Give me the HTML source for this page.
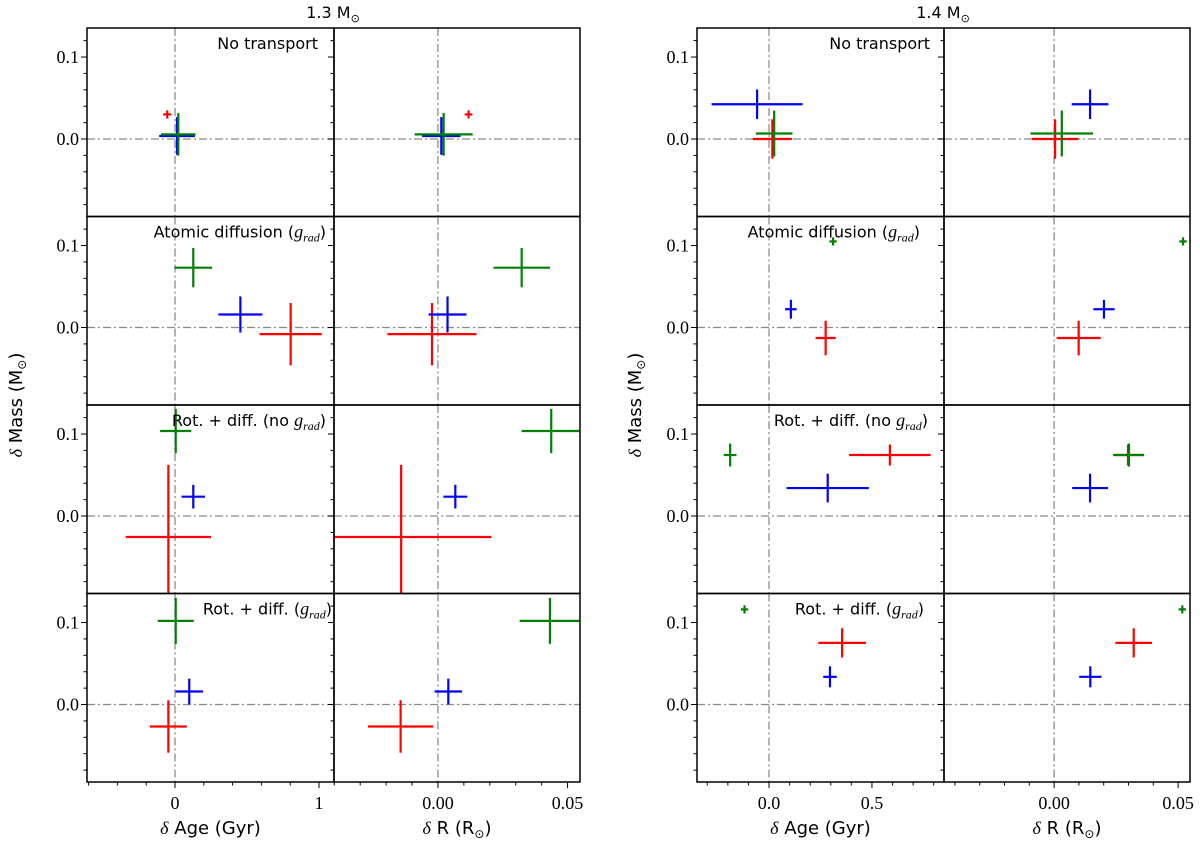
<!DOCTYPE html>
<html><head><meta charset="utf-8"><style>
html,body{margin:0;padding:0;background:#fff;}
svg{display:block;}
.tk{font-family:"Liberation Serif",serif;font-size:18px;fill:#000;}
.lb{font-family:"DejaVu Sans","Liberation Sans",sans-serif;font-size:16px;fill:#000;}
.at{font-family:"DejaVu Sans","Liberation Sans",sans-serif;font-size:18px;fill:#000;}
</style></head><body>
<svg id="fig" width="1200" height="850" viewBox="0 0 1200 850" xmlns="http://www.w3.org/2000/svg"></svg>
<script>
const rowLabels = ["No transport","Atomic diffusion","Rot. + diff. (no","Rot. + diff."];
const ageTicks13 = [0,1], ageTickLabels13 = ["0","1"];
const ageTicks14 = [0,0.5], ageTickLabels14 = ["0.0","0.5"];
const rTicks = [0,0.05], rTickLabels = ["0.00","0.05"];
const massTicks = [0,0.1], massTickLabels = ["0.0","0.1"];
// 1.3 Msun
const age13Red=[-0.054,0.803,-0.046,-0.046], ageErr13Red=[0.028,0.216,0.296,0.128];
const r13Red=[0.0118,-0.0023,-0.0142,-0.0144], rErr13Red=[0.0015,0.0172,0.0348,0.0126];
const m13Red=[0.030,-0.0081,-0.0256,-0.0268], mErr13Red=[0.005,0.038,0.088,0.032];
const age13Blue=[0.014,0.454,0.127,0.099], ageErr13Blue=[0.124,0.153,0.081,0.095];
const r13Blue=[0.0013,0.0037,0.0067,0.0040], rErr13Blue=[0.0074,0.0073,0.0046,0.0053];
const m13Blue=[0.0037,0.0159,0.0236,0.0159], mErr13Blue=[0.023,0.022,0.0144,0.0157];
const age13Green=[0.023,0.127,0.005,0.005], ageErr13Green=[0.12,0.13,0.108,0.125];
const r13Green=[0.0022,0.0323,0.0437,0.0432], rErr13Green=[0.0112,0.0109,0.0114,0.0117];
const m13Green=[0.0057,0.073,0.1037,0.102], mErr13Green=[0.026,0.024,0.027,0.028];
// 1.4 Msun
const age14Red=[0.016,0.275,0.587,0.355], ageErr14Red=[0.095,0.049,0.198,0.116];
const r14Red=[0.0004,0.0099,0.0298,0.0321], rErr14Red=[0.0094,0.0089,0.006,0.0074];
const m14Red=[0.0,-0.0128,0.0744,0.0752], mErr14Red=[0.024,0.021,0.0128,0.0178];
const age14Blue=[-0.058,0.106,0.285,0.296], ageErr14Blue=[0.221,0.028,0.2,0.033];
const r14Blue=[0.0145,0.0201,0.0145,0.0146], rErr14Blue=[0.0074,0.0043,0.0072,0.0045];
const m14Blue=[0.0424,0.0223,0.0341,0.0338], mErr14Blue=[0.018,0.0115,0.0175,0.0128];
const age14Green=[0.025,0.311,-0.189,-0.119], ageErr14Green=[0.089,0.018,0.031,0.018];
const r14Green=[0.0031,0.052,0.0302,0.0517], rErr14Green=[0.0126,0.0015,0.0061,0.0015];
const m14Green=[0.0067,0.105,0.0744,0.116], mErr14Green=[0.028,0.005,0.014,0.005];

const NS="http://www.w3.org/2000/svg";
const svg=document.getElementById('fig');
function mk(tag,attrs,parent){const e=document.createElementNS(NS,tag);for(const k in attrs)e.setAttribute(k,attrs[k]);(parent||svg).appendChild(e);return e;}
const Y_MAX=0.1354, Y_MIN=-0.0945, ROW_TOP=28, ROW_H=188.5;
function yScale(row,v){const t=ROW_TOP+row*ROW_H;return t+(Y_MAX-v)/(Y_MAX-Y_MIN)*ROW_H;}
function xScale(ax,v){return ax.x0+(v-ax.d0)/(ax.d1-ax.d0)*(ax.x1-ax.x0);}

const figs=[
 {id:"13",title:"1.3 M",tx:333,
  age:{x0:87,x1:334,d0:-0.611,d1:1.104,ticks:ageTicks13,labels:ageTickLabels13,minor:0.2},
  r:{x0:334,x1:580,d0:-0.0401,d1:0.0548,ticks:rTicks,labels:rTickLabels,minor:0.01},
  series:[["red",age13Red,ageErr13Red,r13Red,rErr13Red,m13Red,mErr13Red],
          ["blue",age13Blue,ageErr13Blue,r13Blue,rErr13Blue,m13Blue,mErr13Blue],
          ["green",age13Green,ageErr13Green,r13Green,rErr13Green,m13Green,mErr13Green]],
  ylx:22, labelRight:[318,326,326,332]},
 {id:"14",title:"1.4 M",tx:943,
  age:{x0:697,x1:944,d0:-0.350,d1:0.850,ticks:ageTicks14,labels:ageTickLabels14,minor:0.1},
  r:{x0:944,x1:1190,d0:-0.0444,d1:0.0548,ticks:rTicks,labels:rTickLabels,minor:0.01},
  series:[["red",age14Red,ageErr14Red,r14Red,rErr14Red,m14Red,mErr14Red],
          ["blue",age14Blue,ageErr14Blue,r14Blue,rErr14Blue,m14Blue,mErr14Blue],
          ["green",age14Green,ageErr14Green,r14Green,rErr14Green,m14Green,mErr14Green]],
  ylx:641, labelRight:[930,920,928,924]}
];
const colorHex={red:"#ff0000",blue:"#0000ff",green:"#008000"};

figs.forEach((f,fi)=>{
 const t=mk('text',{x:f.tx,y:18,'text-anchor':'middle',class:'lb'});
 
 
 t.innerHTML=f.title+'<tspan font-size="11" dy="4">⊙</tspan>';
 const yt=mk('text',{x:f.ylx,y:405,'text-anchor':'middle',class:'at',transform:'rotate(-90 '+f.ylx+' 405)'});
 
 
 yt.innerHTML='<tspan font-family="Liberation Serif" font-style="italic">δ</tspan> Mass (M<tspan font-size="12" dy="4">⊙</tspan><tspan dy="-4">)</tspan>';
 [["age",f.age],["r",f.r]].forEach(([kind,ax],ci)=>{
  for(let row=0;row<4;row++){
   const top=ROW_TOP+row*ROW_H, bot=top+ROW_H;
   const g=mk('g',{});
   
   
   const cid='clip'+f.id+kind+row;
   const cp=mk('clipPath',{id:cid},g);
   mk('rect',{x:ax.x0,y:top,width:ax.x1-ax.x0,height:ROW_H},cp);
   const inner=mk('g',{'clip-path':'url(#'+cid+')'},g);
   const vx=xScale(ax,0), hy=yScale(row,0);
   const rl1=mk('line',{x1:vx,x2:vx,y1:top,y2:bot,stroke:'#8c8c8c','stroke-width':1.3,'stroke-dasharray':'8,3,2,3'},inner);
   
   
   const rl2=mk('line',{x1:ax.x0,x2:ax.x1,y1:hy,y2:hy,stroke:'#8c8c8c','stroke-width':1.3,'stroke-dasharray':'8,3,2,3'},inner);
   
   
   f.series.forEach(s=>{
    const [col,ages,ageErr,rs,rErr,ms,mErr]=s;
    const xv=kind==="age"?ages[row]:rs[row], xe=kind==="age"?ageErr[row]:rErr[row];
    const cx=xScale(ax,xv), cy=yScale(row,ms[row]);
    const xa=xScale(ax,xv-xe), xb=xScale(ax,xv+xe);
    const ya=yScale(row,ms[row]-mErr[row]), yb=yScale(row,ms[row]+mErr[row]);
    const cg=mk('g',{stroke:colorHex[col],'stroke-width':2.2},inner);
    
    
    mk('line',{x1:xa,x2:xb,y1:cy,y2:cy},cg);
    mk('line',{x1:cx,x2:cx,y1:ya,y2:yb},cg);
   });
   const fr=mk('rect',{x:ax.x0,y:top,width:ax.x1-ax.x0,height:ROW_H,fill:'none',stroke:'#000','stroke-width':1.5},g);
   
   
   for(let k=-4;k<=6;k++){const v=k*0.02;const y=yScale(row,v);const major=(k===0||k===5);
    mk('line',{x1:ax.x0,x2:ax.x0-(major?6:3.5),y1:y,y2:y,stroke:'#000','stroke-width':1},g);}
   if(ci===0){massTicks.forEach((v,i)=>{const tl=mk('text',{x:ax.x0-8,y:yScale(row,v)+6,'text-anchor':'end',class:'tk'},g);
    
    
    tl.textContent=massTickLabels[i];});}
   if(ci===0){
    const lt=mk('text',{x:f.labelRight[row],y:top+21,'text-anchor':'end',class:'lb'},g);
    
    
    if(row===0) lt.textContent=rowLabels[0];
    else if(row===2) lt.innerHTML=rowLabels[2]+' <tspan font-family="Liberation Serif" font-style="italic" font-size="18">g</tspan><tspan font-family="Liberation Serif" font-style="italic" font-size="12" dy="4">rad</tspan><tspan dy="-4">)</tspan>';
    else lt.innerHTML=rowLabels[row]+' (<tspan font-family="Liberation Serif" font-style="italic" font-size="18">g</tspan><tspan font-family="Liberation Serif" font-style="italic" font-size="12" dy="4">rad</tspan><tspan dy="-4">)</tspan>';
   }
   if(row===3){
    const n0=Math.ceil(ax.d0/ax.minor-1e-9), n1=Math.floor(ax.d1/ax.minor+1e-9);
    for(let k=n0;k<=n1;k++){const v=k*ax.minor;const x=xScale(ax,v);const major=ax.ticks.some(tv=>Math.abs(tv-v)<1e-9);
     mk('line',{x1:x,x2:x,y1:bot,y2:bot+(major?6:3.5),stroke:'#000','stroke-width':1},g);}
    ax.ticks.forEach((v,i)=>{const tl=mk('text',{x:xScale(ax,v),y:bot+27,'text-anchor':'middle',class:'tk'},g);
     
     
     tl.textContent=ax.labels[i];});
    const xt=mk('text',{x:(ax.x0+ax.x1)/2,y:bot+52,'text-anchor':'middle',class:'at'},g);
    
    
    xt.innerHTML=kind==="age"?'<tspan font-family="Liberation Serif" font-style="italic">δ</tspan> Age (Gyr)':'<tspan font-family="Liberation Serif" font-style="italic">δ</tspan> R (R<tspan font-size="12" dy="4">⊙</tspan><tspan dy="-4">)</tspan>';
   }
  }
 });
});
</script>
</body></html>
